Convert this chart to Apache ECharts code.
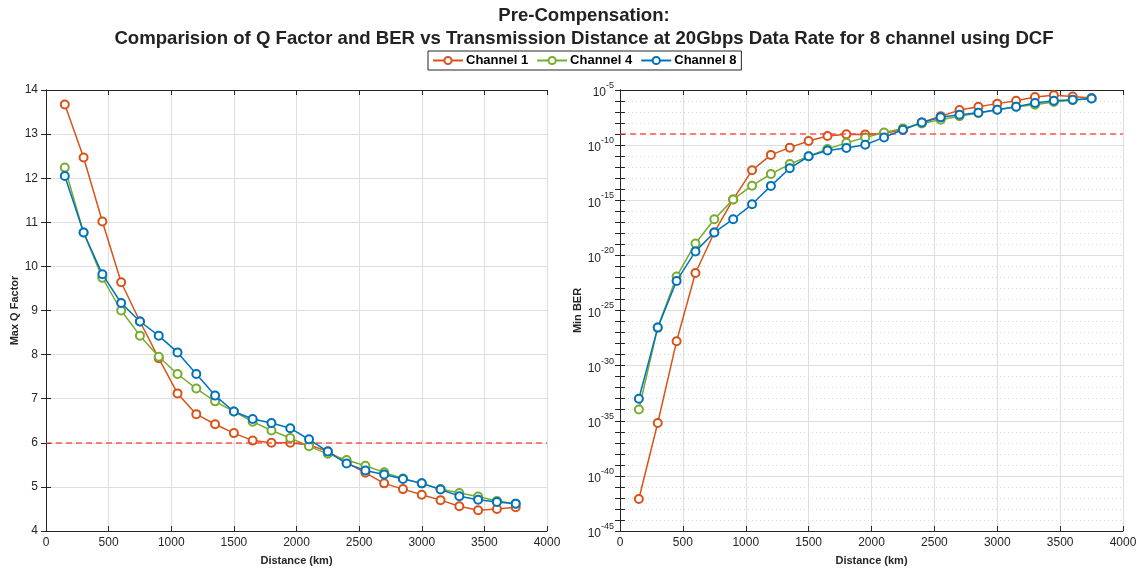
<!DOCTYPE html>
<html>
<head>
<meta charset="utf-8">
<script src="https://cdn.jsdelivr.net/npm/echarts@6/dist/echarts.min.js"></script>
<style>
html,body{margin:0;padding:0;background:#fff;}
#chart{width:1142px;height:574px;}
</style>
</head>
<body>
<div id="chart"></div>
<script>
// ---- data ----
const distances = [150,300,450,600,750,900,1050,1200,1350,1500,1650,1800,1950,2100,2250,2400,2550,2700,2850,3000,3150,3300,3450,3600,3750];
const seriesNames = ['Channel 1','Channel 4','Channel 8'];
const qCh1 = [13.67,12.47,11.02,9.64,8.75,7.92,7.12,6.65,6.42,6.22,6.05,6.00,6.00,5.95,5.81,5.55,5.32,5.08,4.95,4.82,4.70,4.56,4.47,4.50,4.54];
const qCh4 = [12.24,10.77,9.74,9.00,8.43,7.95,7.56,7.23,6.94,6.71,6.48,6.28,6.11,5.92,5.75,5.61,5.48,5.33,5.19,5.08,4.95,4.86,4.78,4.68,4.62];
const qCh8 = [12.05,10.77,9.82,9.17,8.75,8.43,8.05,7.56,7.07,6.71,6.54,6.45,6.33,6.08,5.80,5.53,5.37,5.28,5.18,5.08,4.94,4.79,4.71,4.66,4.62];
const berCh1 = [7.9e-43,6.3e-36,1.6e-28,2.5e-22,1.2e-18,1.2e-15,5.2e-13,1.3e-11,5.9e-11,2.4e-10,6.8e-10,9.5e-10,9.3e-10,1.2e-9,2.5e-9,1.15e-8,4.1e-8,1.5e-7,3.0e-7,5.8e-7,1.07e-6,2.3e-6,3.3e-6,2.6e-6,1.9e-6];
const berCh4 = [1.05e-34,2.8e-27,1.2e-22,1.2e-19,1.9e-17,1.2e-15,2.1e-14,2.4e-13,1.9e-12,9.8e-12,4.5e-11,1.6e-10,5.0e-10,1.4e-9,3.3e-9,9.3e-9,2.0e-8,4.1e-8,8.1e-8,1.6e-7,3.0e-7,4.7e-7,8.1e-7,1.2e-6,1.7e-6];
const berCh8 = [9.8e-34,2.8e-27,4.8e-23,2.3e-20,1.2e-18,1.9e-17,4.3e-16,2.0e-14,7.9e-13,9.8e-12,3.2e-11,5.6e-11,1.07e-10,5.0e-10,2.5e-9,1.15e-8,3.3e-8,5.8e-8,8.7e-8,1.6e-7,3.0e-7,6.6e-7,1.07e-6,1.3e-6,1.7e-6];
const qThreshold = 6;
const berThreshold = 1e-9;
const xTicks = [0,500,1000,1500,2000,2500,3000,3500,4000];
const qTicks = [4,5,6,7,8,9,10,11,12,13,14];
const berExpTicks = [-45,-40,-35,-30,-25,-20,-15,-10,-5];

// ---- style ----
const colors = ['#D95319','#77AC30','#0072BD'];
const FONT = 'Arial, "Liberation Sans", Helvetica, sans-serif';
const AX = '#262626';
const GRID = '#dedede';
const TL = 5;

const chart = echarts.init(document.getElementById('chart'), null, {renderer:'canvas'});

function pairs(xs, ys){ return xs.map((x,i)=>[x, ys[i]]); }
// BER panel uses a log10 scale: the y axis runs over decades (exponents)
function toDecade(v){ return Math.log10(v); }

const grids = [
  {left:46, top:90, width:501, height:441},
  {left:620, top:90, width:503, height:441}
];

function bottomX(gi){
  return {
    type:'value', gridIndex:gi, position:'bottom',
    min:xTicks[0], max:xTicks[xTicks.length-1], interval:xTicks[1]-xTicks[0],
    name:'Distance (km)', nameLocation:'middle', nameGap:24,
    nameTextStyle:{fontFamily:FONT, fontWeight:'bold', fontSize:11, color:AX},
    axisLine:{show:true, lineStyle:{color:AX, width:1}},
    axisTick:{show:true, inside:true, length:TL, lineStyle:{color:AX}},
    axisLabel:{fontFamily:FONT, fontSize:12, color:AX, margin:6, formatter:function(v){return String(v);}},
    splitLine:{show:true, lineStyle:{color:GRID, width:1}}
  };
}
function topX(gi){
  return {
    type:'value', gridIndex:gi, position:'top',
    min:xTicks[0], max:xTicks[xTicks.length-1], interval:xTicks[1]-xTicks[0],
    axisLine:{show:true, lineStyle:{color:AX, width:1}},
    axisTick:{show:true, inside:true, length:TL, lineStyle:{color:AX}},
    axisLabel:{show:false}, splitLine:{show:false}
  };
}

const supRich = {
  b:{fontFamily:FONT, fontSize:12, color:AX, lineHeight:18, verticalAlign:'bottom', padding:[7,0,0,0]},
  s:{fontFamily:FONT, fontSize:9, color:AX, lineHeight:18, verticalAlign:'top', padding:[0,0,7,0]}
};
const berMin = berExpTicks[0], berMax = berExpTicks[berExpTicks.length-1];

const option = {
  animation:false,
  backgroundColor:'#ffffff',
  color:colors,
  title:[
    {text:'Pre-Compensation:', left:579, top:1, textAlign:'center',
     textStyle:{fontFamily:FONT, fontWeight:'bold', fontSize:18.6, color:'#222'}},
    {text:'Comparision of Q Factor and BER vs Transmission Distance at 20Gbps Data Rate for 8 channel using DCF', left:579, top:24, textAlign:'center',
     textStyle:{fontFamily:FONT, fontWeight:'bold', fontSize:18.6, color:'#222'}}
  ],
  legend:{
    data:seriesNames, left:428, top:51,
    orient:'horizontal',
    borderColor:AX, borderWidth:1, padding:[3,5,3,4],
    itemWidth:30, itemHeight:9, itemGap:8,
    textStyle:{fontFamily:FONT, fontWeight:'bold', fontSize:13, color:'#000', padding:[0,0,0,-2]}
  },
  grid:grids,
  xAxis:[bottomX(0), topX(0), bottomX(1), topX(1)],
  yAxis:[
    {type:'value', gridIndex:0, position:'left', min:qTicks[0], max:qTicks[qTicks.length-1], interval:1,
     name:'Max Q Factor', nameLocation:'middle', nameGap:18,
     nameTextStyle:{fontFamily:FONT, fontWeight:'bold', fontSize:11, color:AX},
     axisLine:{show:true, lineStyle:{color:AX}},
     axisTick:{show:true, inside:true, length:TL, lineStyle:{color:AX}},
     axisLabel:{fontFamily:FONT, fontSize:12, color:AX, margin:8},
     splitLine:{show:true, lineStyle:{color:GRID}}},
    {type:'value', gridIndex:0, position:'right', min:qTicks[0], max:qTicks[qTicks.length-1], interval:1,
     axisLine:{show:true, lineStyle:{color:AX}},
     axisTick:{show:true, inside:true, length:TL, lineStyle:{color:AX}},
     axisLabel:{show:false}, splitLine:{show:false}},
    // BER panel left: tick every decade, label every 5 decades
    {type:'value', gridIndex:1, position:'left', min:berMin, max:berMax, interval:1,
     name:'Min BER', nameLocation:'middle', nameGap:37,
     nameTextStyle:{fontFamily:FONT, fontWeight:'bold', fontSize:11, color:AX},
     axisLine:{show:true, lineStyle:{color:AX}},
     axisTick:{show:true, inside:true, length:TL, lineStyle:{color:AX}},
     axisLabel:{fontFamily:FONT, color:AX, margin:6, rich:supRich,
       formatter:function(v){ const e = Math.round(v); return berExpTicks.indexOf(e) >= 0 ? '{b|10}{s|' + e + '}' : ''; }},
     splitLine:{show:true, lineStyle:{color:'#d6d6d6', type:[1,3], width:1}}},
    // right border: ticks every decade
    {type:'value', gridIndex:1, position:'right', min:berMin, max:berMax, interval:1,
     axisLine:{show:true, lineStyle:{color:AX}},
     axisTick:{show:true, inside:true, length:TL, lineStyle:{color:AX}},
     axisLabel:{show:false}, splitLine:{show:false}},
    // solid major grid every 5 decades
    {type:'value', gridIndex:1, position:'right', offset:0, min:berMin, max:berMax, interval:5,
     axisLine:{show:false}, axisTick:{show:false}, axisLabel:{show:false},
     splitLine:{show:true, lineStyle:{color:GRID}}}
  ],
  series:[]
};

const qData = [qCh1, qCh4, qCh8];
const berData = [berCh1, berCh4, berCh8];
const thrLine = {color:'#ff3b3b', type:[6,4], width:1.5, opacity:0.85};

seriesNames.forEach((n,i)=>{
  option.series.push({
    name:n, type:'line', xAxisIndex:0, yAxisIndex:0,
    data:pairs(distances, qData[i]),
    symbol:'emptyCircle', symbolSize:8, showAllSymbol:true,
    lineStyle:{width:1.5, color:colors[i]}, itemStyle:{color:colors[i], borderWidth:1.5},
    z:3+i
  });
  option.series.push({
    name:n, type:'line', xAxisIndex:2, yAxisIndex:2,
    data:pairs(distances, berData[i].map(toDecade)),
    symbol:'emptyCircle', symbolSize:8, showAllSymbol:true,
    lineStyle:{width:1.5, color:colors[i]}, itemStyle:{color:colors[i], borderWidth:1.5},
    z:3+i
  });
});
option.series.push({
  name:'qThr', type:'line', xAxisIndex:0, yAxisIndex:0, data:[], silent:true,
  markLine:{silent:true, symbol:'none', label:{show:false}, lineStyle:thrLine, data:[{yAxis:qThreshold}]}, z:2
});
option.series.push({
  name:'berThr', type:'line', xAxisIndex:2, yAxisIndex:2, data:[], silent:true,
  markLine:{silent:true, symbol:'none', label:{show:false}, lineStyle:thrLine, data:[{yAxis:toDecade(berThreshold)}]}, z:2
});

chart.setOption(option);
</script>
</body>
</html>
